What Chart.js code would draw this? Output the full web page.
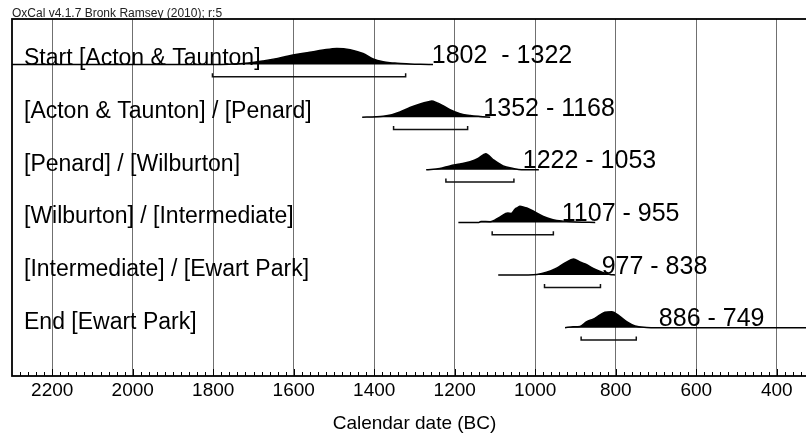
<!DOCTYPE html>
<html>
<head>
<meta charset="utf-8">
<script src="https://cdn.jsdelivr.net/npm/chart.js@4.4.1/dist/chart.umd.min.js"></script>
<style>
  html, body { margin: 0; padding: 0; overflow: hidden; background: #fff; }
  canvas { display: block; }
</style>
</head>
<body>
<canvas id="oxcal" width="830" height="435"></canvas>
<script>
const FONT = '"Liberation Sans", Arial, Helvetica, sans-serif';

// rows, top to bottom
const rowLabels = [
  'Start [Acton & Taunton]',
  '[Acton & Taunton] / [Penard]',
  '[Penard] / [Wilburton]',
  '[Wilburton] / [Intermediate]',
  '[Intermediate] / [Ewart Park]',
  'End [Ewart Park]'
];
const rangeLabels = ['1802  - 1322', '1352 - 1168', '1222 - 1053', '1107 - 955', '977 - 838', '886 - 749'];
const rangeFrom = [1802, 1352, 1222, 1107, 977, 886];
const rangeTo = [1322, 1168, 1053, 955, 838, 749];
const rangeTextAt = [1257, 1129, 1031, 934, 835, 693]; // year where the range text starts

const tickYears = [2200, 2000, 1800, 1600, 1400, 1200, 1000, 800, 600, 400];

// posterior densities (years BC, relative probability, peak = 1)
const startYears = [2300, 1800, 1760, 1720, 1676, 1640, 1602, 1560, 1527, 1493, 1460, 1428, 1403, 1378, 1361, 1343, 1311, 1285, 1254];
const startDens  = [0, 0, 0.02, 0.07, 0.22, 0.38, 0.59, 0.76, 0.9, 1.0, 0.92, 0.68, 0.35, 0.17, 0.11, 0.08, 0.03, 0.01, 0];

const penardYears = [1430, 1395, 1378, 1356, 1336, 1311, 1286, 1265, 1257, 1245, 1232, 1212, 1187, 1162, 1137, 1112];
const penardDens  = [0, 0.02, 0.05, 0.15, 0.32, 0.6, 0.82, 0.96, 1.0, 0.9, 0.75, 0.47, 0.22, 0.1, 0.04, 0];

const wilburtonYears = [1271, 1237, 1212, 1187, 1162, 1142, 1123, 1105, 1080, 1055, 1034, 991];
const wilburtonDens  = [0, 0.08, 0.24, 0.36, 0.5, 0.7, 1.0, 0.64, 0.24, 0.08, 0, 0];

const intermYears = [1191, 1140, 1135, 1112, 1088, 1068, 1060, 1050, 1044, 1038, 1030, 1021, 1000, 980, 956, 931, 897, 851];
const intermDens  = [0, 0, 0.06, 0.04, 0.33, 0.58, 0.56, 0.83, 0.92, 1.0, 0.96, 0.9, 0.64, 0.37, 0.17, 0.08, 0.02, 0];

const ewartYears = [1092, 1020, 996, 972, 947, 926, 905, 889, 872, 852, 831, 814, 802];
const ewartDens  = [0, 0.01, 0.04, 0.17, 0.43, 0.75, 1.0, 0.81, 0.64, 0.36, 0.15, 0.04, 0];

const endYears = [926, 906, 889, 872, 856, 839, 827, 810, 789, 773, 752, 723, 700, 300];
const endDens  = [0, 0.06, 0.08, 0.38, 0.53, 0.8, 0.96, 1.0, 0.69, 0.38, 0.11, 0.02, 0, 0];

const distYears = [startYears, penardYears, wilburtonYears, intermYears, ewartYears, endYears];
const distDens = [startDens, penardDens, wilburtonDens, intermDens, ewartDens, endDens];

// drawing constants (row units: one row = 1)
const PEAK = 0.305;
const BRACKET_DROP = 0.234;
const BRACKET_TICK = 0.066;
const rowValue = i => rowLabels.length - i;

const datasets = [];
distYears.forEach((years, i) => {
  const base = rowValue(i);
  datasets.push({
    data: years.map((yr, k) => ({ x: yr, y: base + distDens[i][k] * PEAK })),
    borderColor: '#000',
    backgroundColor: '#000',
    borderWidth: 1.5,
    pointRadius: 0,
    cubicInterpolationMode: 'monotone',
    fill: { value: base }
  });
});
rangeFrom.forEach((from, i) => {
  const yb = rowValue(i) - BRACKET_DROP;
  datasets.push({
    data: [
      { x: from, y: yb + BRACKET_TICK }, { x: from, y: yb },
      { x: rangeTo[i], y: yb }, { x: rangeTo[i], y: yb + BRACKET_TICK }
    ],
    borderColor: '#111',
    borderWidth: 1.5,
    pointRadius: 0,
    fill: false
  });
});

const overlay = {
  id: 'oxcalOverlay',
  afterDatasetsDraw(chart) {
    const { ctx, chartArea: a, scales: { x, y } } = chart;
    ctx.save();
    ctx.fillStyle = '#000';
    ctx.textAlign = 'left';
    ctx.textBaseline = 'alphabetic';
    ctx.font = '23px ' + FONT;
    rowLabels.forEach((t, i) => ctx.fillText(t, a.left + 12, y.getPixelForValue(rowValue(i)) + 1));
    ctx.font = '25px ' + FONT;
    rangeLabels.forEach((t, i) =>
      ctx.fillText(t, x.getPixelForValue(rangeTextAt[i]), y.getPixelForValue(rowValue(i)) - 1.5));
    ctx.restore();
  },
  afterDraw(chart) {
    const { ctx, chartArea: a, scales: { x } } = chart;
    ctx.save();
    // minor and major tick marks, pointing into the plot
    ctx.strokeStyle = '#000';
    ctx.lineWidth = 1;
    for (let yr = 2280; yr > 300; yr -= 20) {
      const px = Math.round(x.getPixelForValue(yr)) + 0.5;
      const len = yr % 200 === 0 ? 7 : 4;
      ctx.beginPath();
      ctx.moveTo(px, a.bottom);
      ctx.lineTo(px, a.bottom - len);
      ctx.stroke();
    }
    // frame
    ctx.lineWidth = 1.8;
    ctx.strokeRect(a.left, a.top, a.right - a.left, a.bottom - a.top);
    // header
    ctx.fillStyle = '#222';
    ctx.font = '12px ' + FONT;
    ctx.fillText('OxCal v4.1.7 Bronk Ramsey (2010); r:5', a.left, 17);
    ctx.restore();
  }
};

new Chart(document.getElementById('oxcal'), {
  type: 'line',
  data: { datasets },
  plugins: [overlay],
  options: {
    responsive: false,
    animation: false,
    events: [],
    layout: { padding: { left: 12, top: 19, right: 13, bottom: 0 } },
    plugins: { legend: { display: false }, tooltip: { enabled: false } },
    scales: {
      x: {
        type: 'linear',
        reverse: true,
        min: 300,
        max: 2300,
        afterBuildTicks: s => { s.ticks = tickYears.map(v => ({ value: v })); },
        afterFit: s => { s.height = 59; },
        grid: { color: '#707070', lineWidth: 1, drawTicks: false },
        border: { display: false },
        ticks: {
          font: { size: 19, family: FONT },
          color: '#000',
          padding: 3,
          maxRotation: 0,
          autoSkip: false,
          callback: v => String(v)
        },
        title: {
          display: true,
          text: 'Calendar date (BC)',
          font: { size: 19, family: FONT },
          color: '#000',
          padding: { top: 4, bottom: 0 }
        }
      },
      y: {
        type: 'linear',
        display: false,
        min: 0.0825,
        max: 6.864
      }
    }
  }
});
</script>
</body>
</html>
